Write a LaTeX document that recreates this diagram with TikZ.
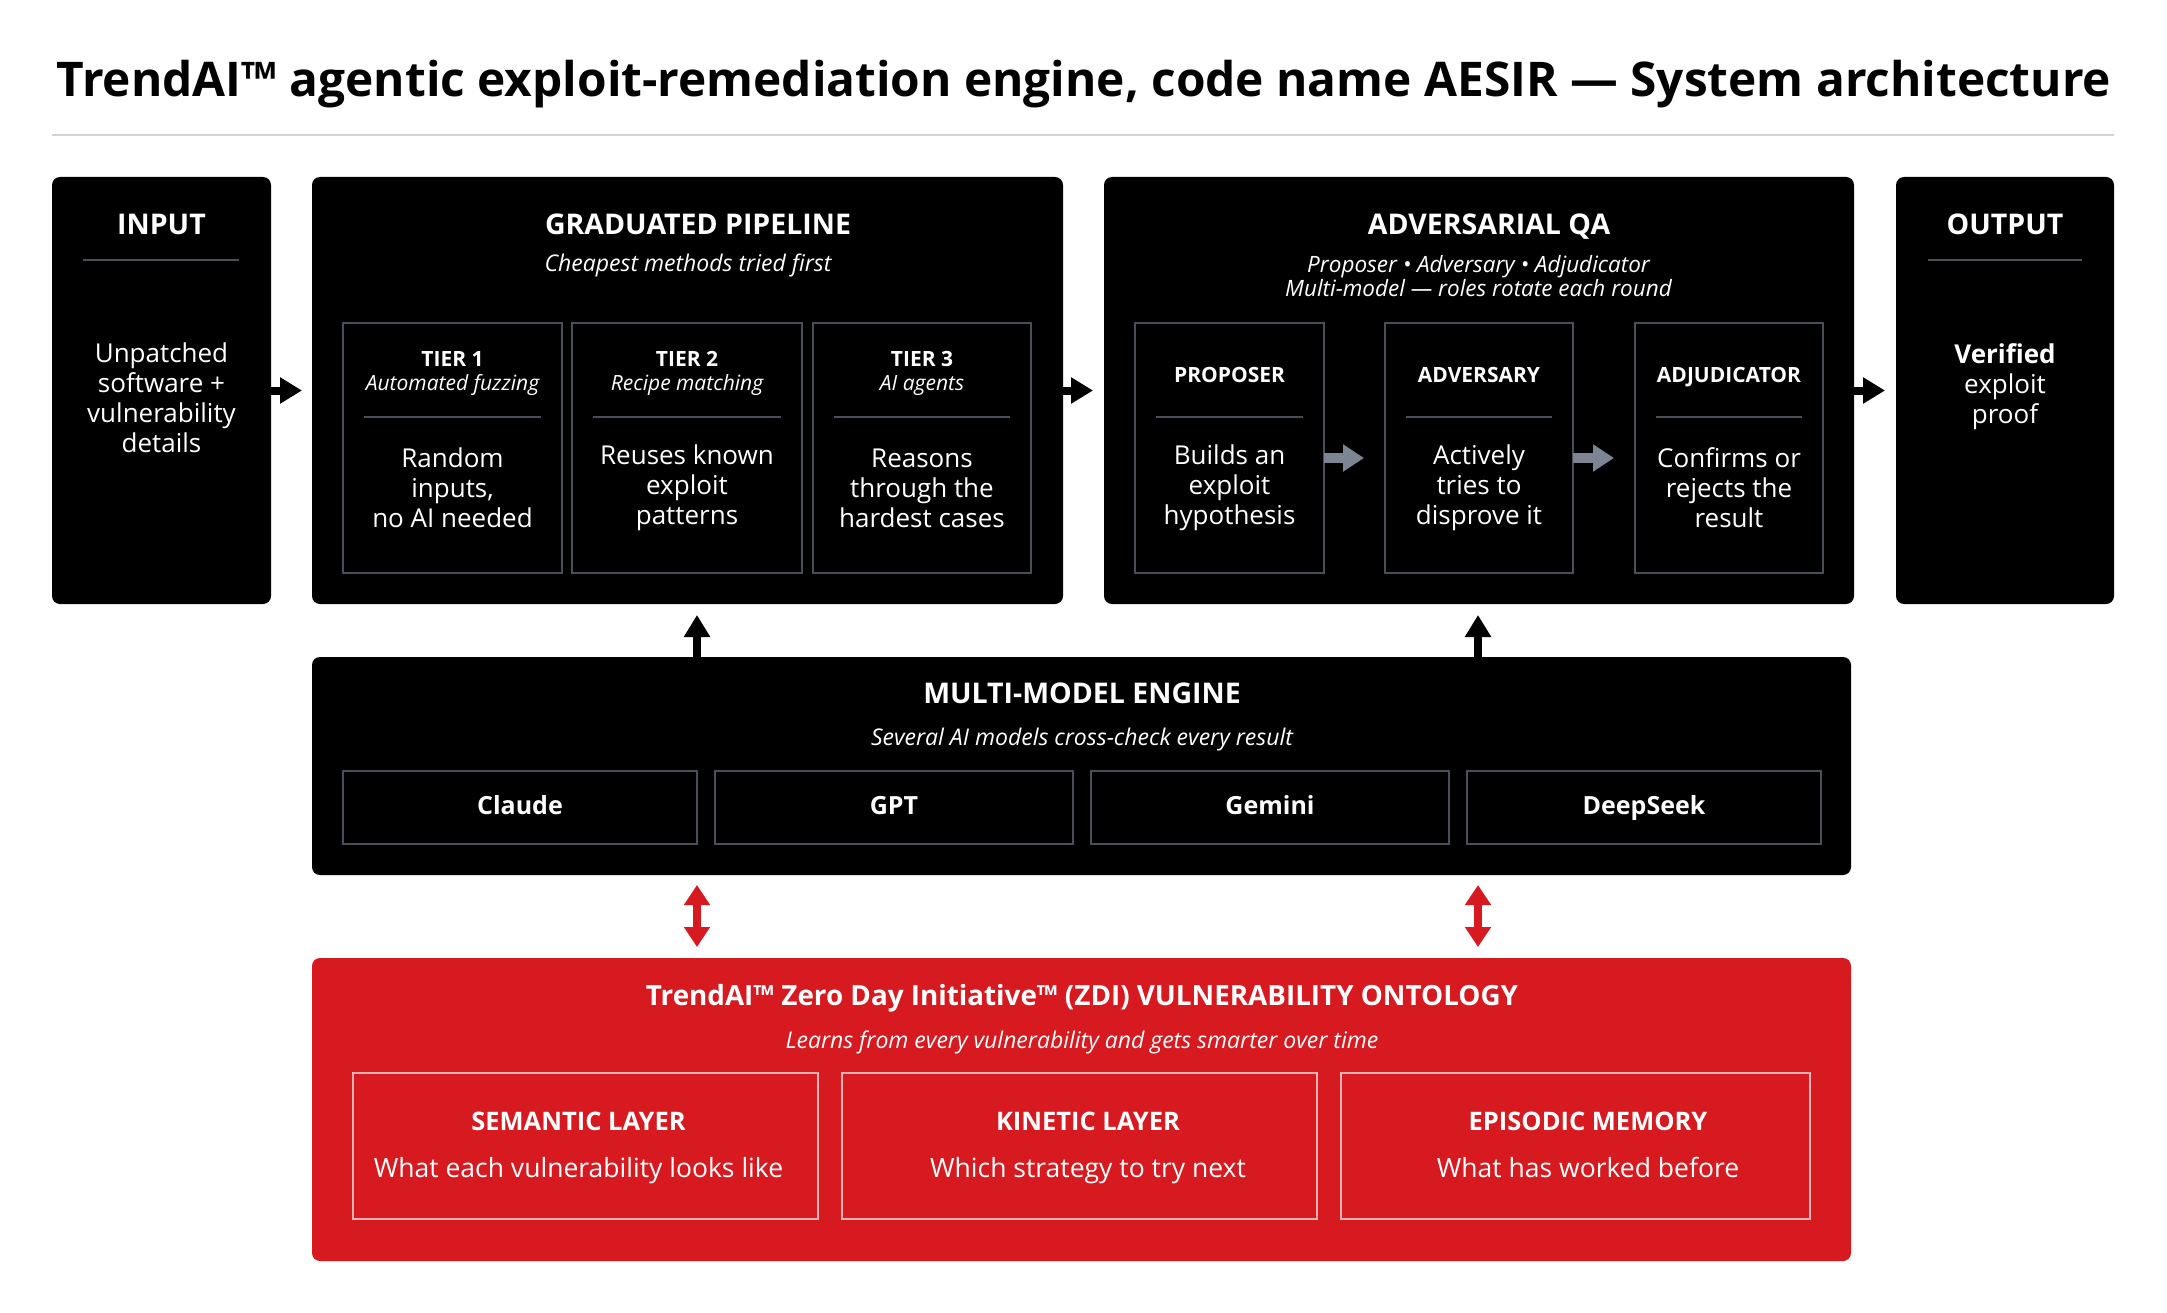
\documentclass[tikz,border=0pt]{standalone}
\usepackage{fontspec}
\setmainfont{Open Sans}
\usetikzlibrary{arrows.meta}
\definecolor{ared}{HTML}{D71920}
\definecolor{agray}{HTML}{4A4E56}
\definecolor{aarrow}{HTML}{7D8594}
\definecolor{pinkline}{HTML}{F4B4B4}
\definecolor{sepline}{HTML}{D4D4D4}
\begin{document}
\begin{tikzpicture}[x=1pt,y=-1pt,
  panel/.style={fill=black, rounded corners=8pt, anchor=north west, inner sep=0pt, outer sep=0pt},
  redpanel/.style={fill=ared, rounded corners=8pt, anchor=north west, inner sep=0pt, outer sep=0pt},
  cell/.style={draw=agray, line width=1.5pt, anchor=north west, inner sep=0pt, outer sep=0pt},
  modelcell/.style={draw=agray, line width=1.5pt, anchor=north west, inner sep=0pt, outer sep=0pt,
     text=white, font=\bfseries\fontsize{25}{30}\selectfont, text height=18pt, text depth=5pt},
  redcell/.style={draw=pinkline, line width=2pt, anchor=north west, inner sep=0pt, outer sep=0pt},
  hdr/.style={font=\bfseries\fontsize{28.5}{32}\selectfont, text=white, anchor=base, inner sep=0pt},
  subt/.style={font=\itshape\fontsize{23}{26}\selectfont, text=white, anchor=base, inner sep=0pt},
  subtb/.style={font=\itshape\fontsize{22.5}{24}\selectfont, text=white, anchor=center, inner sep=0pt, align=center},
  cellhdr/.style={font=\bfseries\fontsize{21}{24}\selectfont, text=white, anchor=base, inner sep=0pt},
  cellsub/.style={font=\itshape\fontsize{21}{24}\selectfont, text=white, anchor=base, inner sep=0pt},
  bodytxt/.style={font=\fontsize{26}{30}\selectfont, text=white, anchor=center, align=center, inner sep=0pt},
  layhdr/.style={font=\bfseries\fontsize{25.5}{30}\selectfont, text=white, anchor=base, inner sep=0pt},
  laybody/.style={font=\fontsize{26.5}{30}\selectfont, text=white, anchor=base, inner sep=0pt},
  divider/.style={draw=agray, line width=2pt},
  blkarrow/.style={draw=black, line width=8pt, -{Triangle[length=22pt,width=25pt]}},
  grayarrow/.style={draw=aarrow, line width=10pt, -{Triangle[length=21pt,width=26pt]}},
  redarrow/.style={draw=ared, line width=8pt, {Triangle[length=20pt,width=25pt]}-{Triangle[length=20pt,width=25pt]}}
]
\fill[white] (0,0) rectangle (2167,1313);
\useasboundingbox (0,0) rectangle (2167,1313);

% title
\node[font=\bfseries\fontsize{47.8}{56}\selectfont, anchor=base, inner sep=0pt] (title) at (1084,97)
  {TrendAI™ agentic exploit-remediation engine, code name AESIR — System architecture};
\draw[sepline, line width=1.5pt] (52,135) -- (2114,135);

% main panels
\node[panel, minimum width=219pt, minimum height=427pt] (input) at (52,177) {};
\node[panel, minimum width=751pt, minimum height=427pt] (pipe) at (312,177) {};
\node[panel, minimum width=750pt, minimum height=427pt] (adv) at (1104,177) {};
\node[panel, minimum width=218pt, minimum height=427pt] (output) at (1896,177) {};
\node[panel, minimum width=1539pt, minimum height=218pt] (engine) at (312,657) {};
\node[redpanel, minimum width=1539pt, minimum height=303pt] (onto) at (312,958) {};

% INPUT
\node[hdr] (inputh) at (161.5,235) {INPUT};
\draw[divider] (83,260) -- (239,260);
\node[bodytxt] (inputb) at (161.5,398) {Unpatched\\software +\\vulnerability\\details};

% OUTPUT
\node[hdr] (outputh) at (2005,235) {OUTPUT};
\draw[divider] (1928,260) -- (2082,260);
\node[bodytxt] (outputb) at (2005,387) {\textbf{Verified}\\exploit\\proof};

% GRADUATED PIPELINE
\node[hdr] (pipeh) at (698,235) {GRADUATED PIPELINE};
\node[subt] (pipes) at (688,272) {Cheapest methods tried first};
\node[cell, minimum width=219pt, minimum height=250pt] (t1) at (343,323) {};
\node[cell, minimum width=230pt, minimum height=250pt] (t2) at (572,323) {};
\node[cell, minimum width=218pt, minimum height=250pt] (t3) at (813,323) {};
\node[cellhdr] (t1h) at (t1.north |- 0,366) {TIER 1};
\node[cellsub] (t1s) at (t1.north |- 0,390) {Automated fuzzing};
\draw[divider] ([xshift=21pt]t1.west |- 0,417) -- ([xshift=-21pt]t1.east |- 0,417);
\node[bodytxt] (t1b) at (t1.north |- 0,488) {Random\\inputs,\\no AI needed};
\node[cellhdr] (t2h) at (t2.north |- 0,366) {TIER 2};
\node[cellsub] (t2s) at (t2.north |- 0,390) {Recipe matching};
\draw[divider] ([xshift=21pt]t2.west |- 0,417) -- ([xshift=-21pt]t2.east |- 0,417);
\node[bodytxt] (t2b) at (t2.north |- 0,488) {Reuses known\\exploit\\patterns};
\node[cellhdr] (t3h) at (t3.north |- 0,366) {TIER 3};
\node[cellsub] (t3s) at (t3.north |- 0,390) {AI agents};
\draw[divider] ([xshift=21pt]t3.west |- 0,417) -- ([xshift=-21pt]t3.east |- 0,417);
\node[bodytxt] (t3b) at (t3.north |- 0,488) {Reasons\\through the\\hardest cases};

% ADVERSARIAL QA
\node[hdr] (advh) at (1489,235) {ADVERSARIAL QA};
\node[subtb] (advs) at (1478.5,276) {Proposer • Adversary • Adjudicator\\Multi-model — roles rotate each round};
\node[cell, minimum width=189pt, minimum height=250pt] (prop) at (1135,323) {};
\node[cell, minimum width=188pt, minimum height=250pt] (advr) at (1385,323) {};
\node[cell, minimum width=188pt, minimum height=250pt] (adj) at (1635,323) {};
\node[cellhdr] (proph) at (prop.north |- 0,382) {PROPOSER};
\draw[divider] ([xshift=21pt]prop.west |- 0,417) -- ([xshift=-21pt]prop.east |- 0,417);
\node[bodytxt] (propb) at (prop.north |- 0,488) {Builds an\\exploit\\hypothesis};
\node[cellhdr] (advrh) at (advr.north |- 0,382) {ADVERSARY};
\draw[divider] ([xshift=21pt]advr.west |- 0,417) -- ([xshift=-21pt]advr.east |- 0,417);
\node[bodytxt] (advrb) at (advr.north |- 0,488) {Actively\\tries to\\disprove it};
\node[cellhdr] (adjh) at (adj.north |- 0,382) {ADJUDICATOR};
\draw[divider] ([xshift=21pt]adj.west |- 0,417) -- ([xshift=-21pt]adj.east |- 0,417);
\node[bodytxt] (adjb) at (adj.north |- 0,488) {Confirms or\\rejects the\\result};

% MULTI-MODEL ENGINE
\node[hdr] (engh) at (1082,703) {MULTI-MODEL ENGINE};
\node[subt] (engs) at (1082,745) {Several AI models cross-check every result};
\node[modelcell, minimum width=354pt, minimum height=73pt] (claude) at (343,771) {Claude};
\node[modelcell, minimum width=358pt, minimum height=73pt] (gpt) at (715,771) {GPT};
\node[modelcell, minimum width=358pt, minimum height=73pt] (gemini) at (1091,771) {Gemini};
\node[modelcell, minimum width=354pt, minimum height=73pt] (deepseek) at (1467,771) {DeepSeek};

% ONTOLOGY
\node[hdr, font=\bfseries\fontsize{27.8}{32}\selectfont] (ontoh) at (1082,1005) {TrendAI™ Zero Day Initiative™ (ZDI) VULNERABILITY ONTOLOGY};
\node[subt] (ontos) at (1082,1048) {Learns from every vulnerability and gets smarter over time};
\node[redcell, minimum width=465pt, minimum height=146pt] (sem) at (353,1073) {};
\node[redcell, minimum width=475pt, minimum height=146pt] (kin) at (842,1073) {};
\node[redcell, minimum width=469pt, minimum height=146pt] (epi) at (1341,1073) {};
\node[layhdr] (semh) at (578.5,1130) {SEMANTIC LAYER};
\node[laybody] (semb) at (578.5,1177) {What each vulnerability looks like};
\node[layhdr] (kinh) at (1088,1130) {KINETIC LAYER};
\node[laybody] (kinb) at (1088,1177) {Which strategy to try next};
\node[layhdr] (epih) at (1588,1130) {EPISODIC MEMORY};
\node[laybody] (epib) at (1588,1177) {What has worked before};

% connectors
\coordinate (colA) at (697,0);
\coordinate (colB) at (1478,0);
\draw[blkarrow, shorten >=10pt] (input.east) -- (pipe.west);
\draw[blkarrow, shorten >=11pt] (pipe.east) -- (adv.west);
\draw[blkarrow, shorten >=11pt] (adv.east) -- (output.west);
\draw[grayarrow, shorten >=21pt] ([yshift=-10pt]prop.east) -- ([yshift=-10pt]advr.west);
\draw[grayarrow, shorten >=21pt] ([yshift=-10pt]advr.east) -- ([yshift=-10pt]adj.west);
\draw[blkarrow, shorten >=11pt] (colA |- engine.north) -- (colA |- pipe.south);
\draw[blkarrow, shorten >=11pt] (colB |- engine.north) -- (colB |- adv.south);
\draw[redarrow, shorten <=10pt, shorten >=11pt] (colA |- engine.south) -- (colA |- onto.north);
\draw[redarrow, shorten <=10pt, shorten >=11pt] (colB |- engine.south) -- (colB |- onto.north);
\end{tikzpicture}
\end{document}
